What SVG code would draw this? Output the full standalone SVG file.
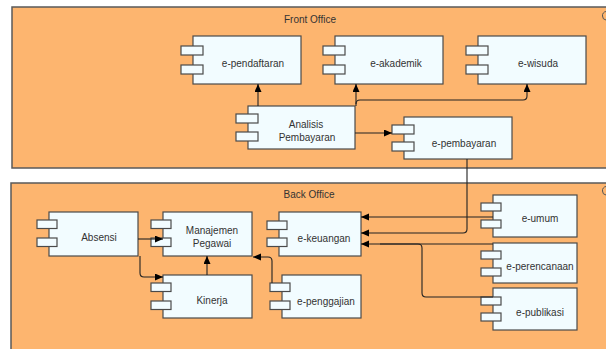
<svg xmlns="http://www.w3.org/2000/svg" width="606" height="349" viewBox="0 0 606 349">
<style>
.frame{fill:#FDB56F;stroke:#5a5a5a;stroke-width:1.5}
.body{fill:#F2FCFF;stroke:#4a4a4a;stroke-width:1.2}
.port{fill:#F2FCFF;stroke:#4a4a4a;stroke-width:1.2}
.t{font-family:"Liberation Sans",Arial,sans-serif;font-size:10px;fill:#333;text-anchor:middle}
.c{fill:none;stroke:#222;stroke-width:1.1}
.ico{fill:none;stroke:#555;stroke-width:1}
</style>
<defs>
<marker id="arr" markerUnits="userSpaceOnUse" markerWidth="9" markerHeight="8" refX="8" refY="3.5" orient="auto">
<path d="M0,0 L8,3.5 L0,7 z" fill="#000"/>
</marker>
</defs>
<rect width="606" height="349" fill="#fff"/>
<g id="front-office">
<rect class="frame" x="12" y="7" width="604" height="161"/>
<text class="t" x="310" y="22.5">Front Office</text>
<path class="ico" d="M606,11.5 A4,4 0 0 0 602.5,16 A4,4 0 0 0 606,20"/>
</g>
<g id="back-office">
<rect class="frame" x="11" y="183" width="605" height="200"/>
<text class="t" x="309" y="197.5">Back Office</text>
<path class="ico" d="M606,186.5 A4,4 0 0 0 602.5,191 A4,4 0 0 0 606,195"/>
</g>
<g id="e-pendaftaran">
<rect class="body" x="193" y="36" width="108" height="48"/>
<rect class="port" x="181" y="46" width="22" height="9"/>
<rect class="port" x="181" y="65" width="22" height="9"/>
<text class="t" x="253" y="66.5">e-pendaftaran</text>
</g>
<g id="e-akademik">
<rect class="body" x="335" y="36" width="108" height="48"/>
<rect class="port" x="323" y="46" width="22" height="9"/>
<rect class="port" x="323" y="65" width="22" height="9"/>
<text class="t" x="396" y="66.5">e-akademik</text>
</g>
<g id="e-wisuda">
<rect class="body" x="478" y="36" width="108" height="48"/>
<rect class="port" x="466" y="46" width="22" height="9"/>
<rect class="port" x="466" y="65" width="22" height="9"/>
<text class="t" x="538" y="66.5">e-wisuda</text>
</g>
<g id="analisis-pembayaran">
<rect class="body" x="248" y="106" width="107" height="43"/>
<rect class="port" x="236" y="114" width="22" height="9"/>
<rect class="port" x="236" y="132" width="22" height="9"/>
<text class="t" x="306" y="127.5">Analisis</text>
<text class="t" x="307" y="140.5">Pembayaran</text>
</g>
<g id="e-pembayaran">
<rect class="body" x="404" y="117" width="108" height="42"/>
<rect class="port" x="392" y="125" width="22" height="9"/>
<rect class="port" x="392" y="142" width="22" height="9"/>
<text class="t" x="464" y="146.5">e-pembayaran</text>
</g>
<g id="absensi">
<rect class="body" x="49" y="212" width="89" height="44"/>
<rect class="port" x="37" y="220" width="20" height="8.5"/>
<rect class="port" x="37" y="238" width="20" height="8.5"/>
<text class="t" x="99" y="240.5">Absensi</text>
</g>
<g id="manajemen-pegawai">
<rect class="body" x="163" y="212" width="89" height="44"/>
<rect class="port" x="151" y="220" width="20" height="8.5"/>
<rect class="port" x="151" y="238" width="20" height="8.5"/>
<text class="t" x="212" y="233.5">Manajemen</text>
<text class="t" x="212" y="246.5">Pegawai</text>
</g>
<g id="kinerja">
<rect class="body" x="163" y="275" width="89" height="43"/>
<rect class="port" x="151" y="283" width="20" height="8.5"/>
<rect class="port" x="151" y="301" width="20" height="8.5"/>
<text class="t" x="212" y="303.5">Kinerja</text>
</g>
<g id="e-keuangan">
<rect class="body" x="279" y="212" width="82" height="44"/>
<rect class="port" x="267" y="221" width="20" height="8.5"/>
<rect class="port" x="267" y="238" width="20" height="8.5"/>
<text class="t" x="324" y="241.5">e-keuangan</text>
</g>
<g id="e-penggajian">
<rect class="body" x="282" y="275" width="79" height="43"/>
<rect class="port" x="270" y="283" width="20" height="8.5"/>
<rect class="port" x="270" y="301" width="20" height="8.5"/>
<text class="t" x="326" y="304.5">e-penggajian</text>
</g>
<g id="e-umum">
<rect class="body" x="493" y="195" width="84" height="42"/>
<rect class="port" x="481" y="203" width="20" height="8"/>
<rect class="port" x="481" y="220" width="20" height="8"/>
<text class="t" x="540" y="221.5">e-umum</text>
</g>
<g id="e-perencanaan">
<rect class="body" x="493" y="243" width="84" height="40"/>
<rect class="port" x="481" y="251" width="20" height="8"/>
<rect class="port" x="481" y="268" width="20" height="8"/>
<text class="t" x="540" y="269.5">e-perencanaan</text>
</g>
<g id="e-publikasi">
<rect class="body" x="493" y="288" width="84" height="42"/>
<rect class="port" x="481" y="297" width="20" height="8"/>
<rect class="port" x="481" y="313" width="20" height="8"/>
<text class="t" x="540" y="315.5">e-publikasi</text>
</g>
<g id="connectors">
<path class="c" marker-end="url(#arr)" d="M258,106 V84"/>
<path class="c" marker-end="url(#arr)" d="M356,106 V84"/>
<path class="c" marker-end="url(#arr)" d="M356,104 Q356,100 360,100 H523 Q527,100 527,96 V84"/>
<path class="c" marker-end="url(#arr)" d="M355,133 H392"/>
<path class="c" marker-end="url(#arr)" d="M467,159 V229 Q467,233 463,233 H361"/>
<path class="c" marker-end="url(#arr)" d="M493,217 H361"/>
<path class="c" marker-end="url(#arr)" d="M493,244 H361"/>
<path class="c" d="M493,297 H426 Q422,297 422,293 V248 Q422,244 418,244 H380"/>
<path class="c" marker-end="url(#arr)" d="M138,239 H163"/>
<path class="c" marker-end="url(#arr)" d="M140,256 V273 Q140,277 144,277 H163"/>
<path class="c" marker-end="url(#arr)" d="M207,275 V256"/>
<path class="c" marker-end="url(#arr)" d="M272,283 V261 Q272,257 268,257 H253"/>
</g>
</svg>
